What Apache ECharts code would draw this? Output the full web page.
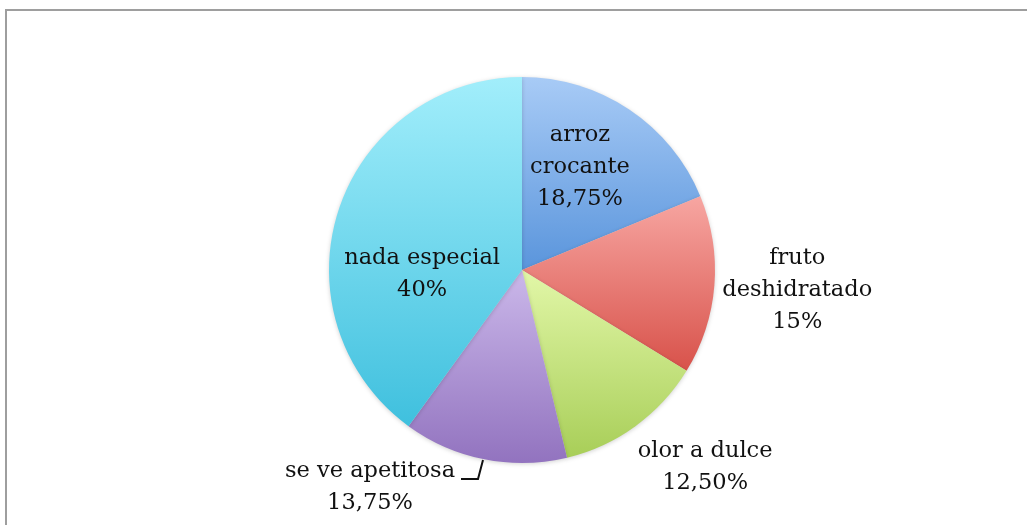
<!DOCTYPE html>
<html>
<head>
<meta charset="utf-8">
<script src="https://cdn.jsdelivr.net/npm/echarts@6/dist/echarts.min.js"></script>
<style>
  html, body { margin: 0; padding: 0; background: #fff; }
  #chart { width: 1027px; height: 525px; }
</style>
</head>
<body>
<div id="chart"></div>
<script>
// data
const categories = ['arroz crocante', 'fruto deshidratado', 'olor a dulce', 'se ve apetitosa', 'nada especial'];
const labelTexts = ['arroz\ncrocante\n18,75%', 'fruto\ndeshidratado\n15%', 'olor a dulce\n12,50%', 'se ve apetitosa\n13,75%', 'nada especial\n40%'];
const values = [18.75, 15, 12.5, 13.75, 40];

// gradient colours, top -> bottom
const topColors = ['#a8cbf6', '#f7a6a2', '#e2f7a8', '#cbb8ea', '#a2eefb'];
const bottomColors = ['#5a95dc', '#d8524a', '#a8ce58', '#9273bf', '#3fc0de'];

const CX = 522, CY = 270, R = 193;
// label centres, polar from pie centre: [angle deg, distance px]
const labelPolar = [[60.6, 118], [-4.2, 276], [-47.1, 269], [-125, 265], [182.3, 100]];
// leader line for "se ve apetitosa", relative to centre
const leader = [[-39, 190], [-44, 209], [-61, 209]];

const chart = echarts.init(document.getElementById('chart'));

const option = {
  backgroundColor: '#fff',
  animation: false,
  graphic: [{
    type: 'rect',
    shape: { x: 6, y: 10, width: 1100, height: 600 },
    style: { fill: 'none', stroke: '#9e9e9e', lineWidth: 2 },
    silent: true
  }],
  series: [{
    type: 'pie',
    center: [CX, CY],
    radius: R,
    startAngle: 90,
    clockwise: true,
    avoidLabelOverlap: false,
    itemStyle: {
      borderWidth: 0,
      shadowBlur: 4,
      shadowColor: 'rgba(0,0,0,0.18)',
      shadowOffsetY: 1
    },
    label: {
      fontFamily: 'DejaVu Serif',
      fontSize: 22.5,
      lineHeight: 32,
      color: '#111',
      align: 'center'
    },
    labelLine: { show: false },
    labelLayout: function (p) {
      const i = p.dataIndex;
      const a = labelPolar[i][0] * Math.PI / 180;
      const d = labelPolar[i][1];
      const res = {
        x: CX + d * Math.cos(a),
        y: CY - d * Math.sin(a),
        align: 'center',
        verticalAlign: 'middle'
      };
      if (i === 3) {
        res.labelLinePoints = leader.map(function (q) { return [CX + q[0], CY + q[1]]; });
      }
      return res;
    },
    data: categories.map(function (name, i) {
      const item = {
        name: name,
        value: values[i],
        itemStyle: {
          color: new echarts.graphic.LinearGradient(0, 0, 0, 1, [
            { offset: 0, color: topColors[i] },
            { offset: 1, color: bottomColors[i] }
          ])
        },
        label: {
          formatter: labelTexts[i],
          position: (i === 0 || i === 4) ? 'inside' : 'outside'
        }
      };
      if (i === 3) {
        item.labelLine = { show: true, lineStyle: { color: '#111', width: 2 } };
      }
      return item;
    })
  }]
};

chart.setOption(option);
</script>
</body>
</html>
